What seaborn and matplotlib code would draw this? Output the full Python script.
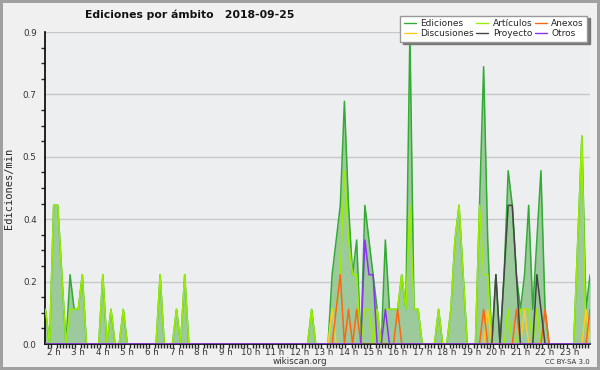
import numpy as np
import pandas as pd
import matplotlib
matplotlib.use('Agg')
import matplotlib.pyplot as plt
from matplotlib.ticker import FixedLocator, MultipleLocator
import seaborn as sns

# 10-minute buckets, minutes since midnight (01:40 .. 23:50)
minutes = list(range(100, 1440, 10))

# edits per 10 minutes, one row per hour (first row is 01:40-01:50)
ediciones = [
    1, 0,
    4, 4, 2, 0, 2, 1,
    1, 2, 0, 0, 0, 0,
    2, 0, 1, 0, 0, 1,
    0, 0, 0, 0, 0, 0,
    0, 0, 2, 0, 0, 0,
    1, 0, 2, 0, 0, 0,
    0, 0, 0, 0, 0, 0,
    0, 0, 0, 0, 0, 0,
    0, 0, 0, 0, 0, 0,
    0, 0, 0, 0, 0, 0,
    0, 0, 0, 1, 0, 0,
    0, 0, 2, 3, 4, 7,
    4, 2, 3, 0, 4, 3,
    2, 1, 0, 3, 1, 1,
    1, 2, 1, 9, 1, 1,
    0, 0, 0, 0, 1, 0,
    0, 1, 3, 4, 2, 0,
    0, 0, 4, 8, 3, 0,
    2, 0, 2, 5, 4, 2,
    1, 2, 4, 1, 3, 5,
    1, 0, 0, 0, 0, 0,
    0, 0, 3, 6, 1, 2,
]
articulos = [
    1, 0,
    4, 4, 2, 0, 1, 1,
    1, 2, 0, 0, 0, 0,
    2, 0, 1, 0, 0, 1,
    0, 0, 0, 0, 0, 0,
    0, 0, 2, 0, 0, 0,
    1, 0, 2, 0, 0, 0,
    0, 0, 0, 0, 0, 0,
    0, 0, 0, 0, 0, 0,
    0, 0, 0, 0, 0, 0,
    0, 0, 0, 0, 0, 0,
    0, 0, 0, 1, 0, 0,
    0, 0, 1, 1, 2, 5,
    3, 2, 2, 0, 1, 1,
    0, 1, 0, 1, 1, 1,
    1, 2, 1, 4, 1, 1,
    0, 0, 0, 0, 1, 0,
    0, 1, 3, 4, 2, 0,
    0, 0, 4, 2, 2, 0,
    0, 0, 0, 1, 0, 0,
    1, 1, 1, 0, 1, 0,
    0, 0, 0, 0, 0, 0,
    0, 0, 3, 6, 0, 0,
]
anexos = [0] * 71 + [1, 2, 0, 1, 0, 1] + [0] * 9 + [1] + [0] * 20 + [1] + [0] * 7 + [1] + [0] * 6 + [1] + [0] * 10 + [1]
discusiones = [0] * 70 + [1] + [0] * 37 + [1] + [0] * 8 + [1] + [0] * 14 + [1, 0]
proyecto = [0] * 110 + [2, 0, 2, 4, 4, 2, 0, 0, 0, 0, 2, 1] + [0] * 12
otros = [0] * 78 + [3, 2, 2, 0, 0, 1] + [0] * 50

series = {
    'Ediciones': ediciones,
    'Artículos': articulos,
    'Anexos': anexos,
    'Discusiones': discusiones,
    'Proyecto': proyecto,
    'Otros': otros,
}
colores = {
    'Ediciones': '#33aa33',
    'Artículos': '#99ee00',
    'Anexos': '#ff6611',
    'Discusiones': '#ffcc22',
    'Proyecto': '#444444',
    'Otros': '#8833ee',
}

df = pd.DataFrame(series)
df['hora'] = np.array(minutes) / 60
df[list(series)] = df[list(series)] / 10  # edits per minute

sns.set_style('white')
plt.rcParams['font.family'] = ['DejaVu Sans']

fig = plt.figure(figsize=(6, 3.7), dpi=100)
fig.patch.set_facecolor('#f0f0f0')
fig.patch.set_edgecolor('#a0a0a0')
fig.patch.set_linewidth(3)
ax = fig.add_axes([45 / 600, 26 / 370, 545 / 600, 312 / 370])
ax.set_facecolor('#eceef0')

ax.fill_between(df['hora'], df['Ediciones'], color='#99c899', alpha=0.95, lw=0, zorder=1)
for nombre in ['Ediciones', 'Artículos', 'Discusiones', 'Anexos', 'Proyecto', 'Otros']:
    sns.lineplot(data=df, x='hora', y=nombre, ax=ax, color=colores[nombre],
                 linewidth=1.1, label=nombre, zorder=3, legend=False)

ax.set_xlim(1.647, 23.83)
ax.set_ylim(0, 0.9)

yt = [0, 0.18, 0.36, 0.54, 0.72, 0.9]
ax.yaxis.set_major_locator(FixedLocator(yt))
ax.set_yticklabels(['0.0', '0.2', '0.4', '0.5', '0.7', '0.9'])
ax.yaxis.set_minor_locator(MultipleLocator(0.045))
ax.xaxis.set_major_locator(FixedLocator(list(range(2, 24))))
ax.set_xticklabels([f'{h} h' for h in range(2, 24)])
ax.xaxis.set_minor_locator(MultipleLocator(1 / 8))

ax.grid(axis='y', color='#c8c8c8', linewidth=1)
ax.set_axisbelow(True)
ax.tick_params(axis='y', which='major', length=5, width=1, labelsize=6.3, pad=1, colors='black', labelcolor='#333333')
ax.tick_params(axis='y', which='minor', length=3, width=1, left=True)
ax.tick_params(axis='x', which='major', length=3, width=1, labelsize=6.3, pad=0, labelcolor='#333333')
ax.tick_params(axis='x', which='minor', length=3, width=1, bottom=True)
for s in ['top', 'right']:
    ax.spines[s].set_visible(False)
for s in ['left', 'bottom']:
    ax.spines[s].set_color('black')
    ax.spines[s].set_linewidth(1.2)

ax.set_xlabel('')
ax.set_ylabel('Ediciones/min', fontsize=7.5, family='DejaVu Sans Mono', labelpad=6)
fig.text(85 / 600, 1 - 15 / 370, 'Ediciones por ámbito   2018-09-25', ha='left', va='center',
         fontsize=7.8, fontweight='bold', color='#111111')
fig.text(300 / 600, 1 - 362 / 370, 'wikiscan.org', ha='center', va='center', fontsize=6.3, color='#333333')
fig.text(590 / 600, 1 - 362 / 370, 'CC BY-SA 3.0', ha='right', va='center', fontsize=5, color='#333333')

handles, labels = ax.get_legend_handles_labels()
orden = ['Ediciones', 'Discusiones', 'Artículos', 'Proyecto', 'Anexos', 'Otros']
h = [handles[labels.index(n)] for n in orden]
leg = fig.legend(h, orden, ncol=3, loc='upper right', bbox_to_anchor=(592 / 600, 1 - 11 / 370),
                 fontsize=6.5, handlelength=1.3, handletextpad=0.5, columnspacing=0.3,
                 labelspacing=0.1, borderpad=0.4, frameon=True, fancybox=False,
                 shadow={'color': '#777777', 'alpha': 1}, framealpha=1, edgecolor='#999999')
for line in leg.get_lines():
    line.set_linewidth(1)

fig.savefig('out.png', dpi=100, facecolor=fig.get_facecolor(), edgecolor=fig.get_edgecolor())
